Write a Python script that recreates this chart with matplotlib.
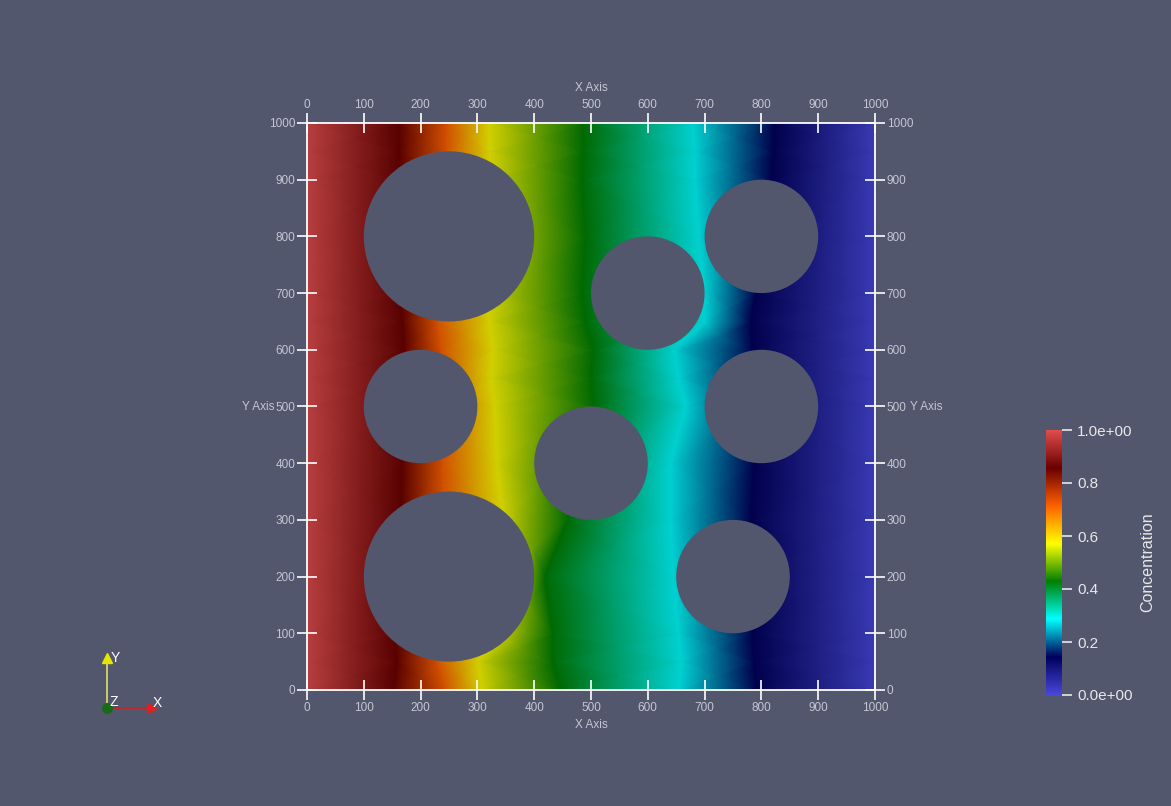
"""
Carte de concentration autour des obstacles (rendu facon ParaView)
"""
import numpy as np
import matplotlib
matplotlib.use('Agg')
import matplotlib.pyplot as plt
from matplotlib.colors import LinearSegmentedColormap, Normalize
from matplotlib.patches import Circle

BG = '#52576e'
TXT = '#c3c6d2'

# Palette "Rainbow Desaturated" (position, couleur)
palette_pos = [0.0, 0.143, 0.286, 0.429, 0.571, 0.714, 0.857, 1.0]
palette_rgb = [(0.278, 0.278, 0.859), (0.0, 0.0, 0.361), (0.0, 1.0, 1.0),
               (0.0, 0.502, 0.0), (1.0, 1.0, 0.0), (1.0, 0.380, 0.0),
               (0.420, 0.0, 0.0), (0.878, 0.302, 0.302)]

# Lignes horizontales (y) et position x ou chaque niveau de concentration est atteint
rows_y = [0, 50, 100, 200, 300, 400, 500, 550, 600, 650, 700, 800, 900, 950, 1000]
x_c100 = [0] * len(rows_y)
x_c086 = [153, 158, 155, 160, 165, 168, 170, 170, 171, 168, 165, 163, 163, 163, 161]
x_c071 = [243, 230, 235, 240, 240, 239, 238, 236, 236, 230, 240, 245, 245, 245, 246]
x_c057 = [308, 301, 340, 370, 345, 334, 331, 324, 327, 321, 320, 325, 322, 322, 321]
x_c043 = [445, 432, 432, 418, 458, 480, 504, 500, 504, 490, 484, 490, 484, 486, 487]
x_c029 = [654, 660, 654, 645, 640, 640, 667, 654, 647, 700, 700, 690, 683, 682, 680]
x_c014 = [791, 787, 784, 784, 781, 787, 790, 784, 784, 781, 790, 805, 817, 820, 823]
x_c000 = [1000] * len(rows_y)
levels = [1.0, 0.857, 0.714, 0.571, 0.429, 0.286, 0.143, 0.0]

# Obstacles circulaires
circ_x = [250, 200, 250, 600, 500, 800, 800, 750]
circ_y = [800, 500, 200, 700, 400, 800, 500, 200]
circ_r = [150, 100, 150, 100, 100, 100, 100, 100]

x_ticks = list(range(0, 1001, 100))
cbar_ticks = [0.0, 0.2, 0.4, 0.6, 0.8, 1.0]
cbar_labels = ['0.0e+00', '0.2', '0.4', '0.6', '0.8', '1.0e+00']

plt.rcParams['font.family'] = ['Liberation Sans', 'DejaVu Sans']

cmap_bar = LinearSegmentedColormap.from_list('rdsat', list(zip(palette_pos, palette_rgb)))
dim = 0.82
cmap_field = LinearSegmentedColormap.from_list(
    'rdsat_dim', [(p, tuple(c * dim for c in rgb)) for p, rgb in zip(palette_pos, palette_rgb)])

fig = plt.figure(figsize=(11.71, 8.06), dpi=100, facecolor=BG)
ax = fig.add_axes([307 / 1171, 116 / 806, 568 / 1171, 567 / 806])
ax.set_facecolor(BG)

# Maillage curviligne: chaque colonne suit un niveau de concentration
cols = [x_c100, x_c086, x_c071, x_c057, x_c043, x_c029, x_c014, x_c000]
X = np.array(cols, dtype=float).T
Y = np.repeat(np.array(rows_y, dtype=float)[:, None], len(cols), axis=1)
C = np.repeat(np.array(levels)[None, :], len(rows_y), axis=0)
ax.pcolormesh(X, Y, C, cmap=cmap_field, norm=Normalize(0, 1), shading='gouraud', zorder=1)

for cx, cy, r in zip(circ_x, circ_y, circ_r):
    ax.add_patch(Circle((cx, cy), r, facecolor=BG, edgecolor='none', zorder=2))

ax.set_xlim(0, 1000)
ax.set_ylim(0, 1000)
ax.set_xticks(x_ticks)
ax.set_yticks(x_ticks)
ax.tick_params(which='both', direction='inout', length=15, width=1.2, color='white',
               labelsize=8.5, labelcolor=TXT, pad=1,
               top=True, right=True, labeltop=True, labelright=True)
for sp in ax.spines.values():
    sp.set_color('white')
    sp.set_linewidth(1.3)
    sp.set_zorder(3)

ax.text(0.5, 1.062, 'X Axis', transform=ax.transAxes, ha='center', va='center',
        fontsize=8.5, color=TXT)
ax.text(0.5, -0.062, 'X Axis', transform=ax.transAxes, ha='center', va='center',
        fontsize=8.5, color=TXT)
ax.text(-0.058, 0.5, 'Y Axis', transform=ax.transAxes, ha='right', va='center',
        fontsize=8.5, color=TXT)
ax.text(1.062, 0.5, 'Y Axis', transform=ax.transAxes, ha='left', va='center',
        fontsize=8.5, color=TXT)

# Barre de couleur
cax = fig.add_axes([1046 / 1171, 111 / 806, 16 / 1171, 265 / 806])
grad = np.linspace(0, 1, 256)[:, None]
cax.imshow(grad, aspect='auto', cmap=cmap_bar, origin='lower', extent=[0, 1, 0, 1])
cax.set_xticks([])
cax.yaxis.tick_right()
cax.set_yticks(cbar_ticks)
cax.set_yticklabels(cbar_labels)
cax.tick_params(axis='y', direction='out', length=7, width=1.2, color='#e8e8e8',
                labelsize=11, labelcolor='#e8e8e8', pad=4)
for sp in cax.spines.values():
    sp.set_visible(False)
fig.text(1148 / 1171, 1 - 562 / 806, 'Concentration', rotation=90, ha='center',
         va='center', fontsize=11.5, color='#e8e8e8')

# Triedre d'orientation
ov = fig.add_axes([0, 0, 1, 1])
ov.set_xlim(0, 1171)
ov.set_ylim(806, 0)
ov.axis('off')
ov.patch.set_alpha(0)
ov.plot([107, 107], [708, 660], color='#e0e060', lw=1.2)
ov.plot([107], [658], marker='^', color='#e6e600', markersize=7)
ov.plot([107, 150], [708, 708], color='#d02020', lw=1.2)
ov.plot([152], [708], marker='>', color='#e02020', markersize=7)
ov.plot([107], [708], marker='o', color='#1a6a1a', markersize=7)
ov.text(111, 658, 'Y', color='white', fontsize=10, va='center', ha='left')
ov.text(110, 702, 'Z', color='white', fontsize=10, va='center', ha='left')
ov.text(153, 703, 'X', color='white', fontsize=10, va='center', ha='left')

fig.savefig('out.png', dpi=100, facecolor=BG)
